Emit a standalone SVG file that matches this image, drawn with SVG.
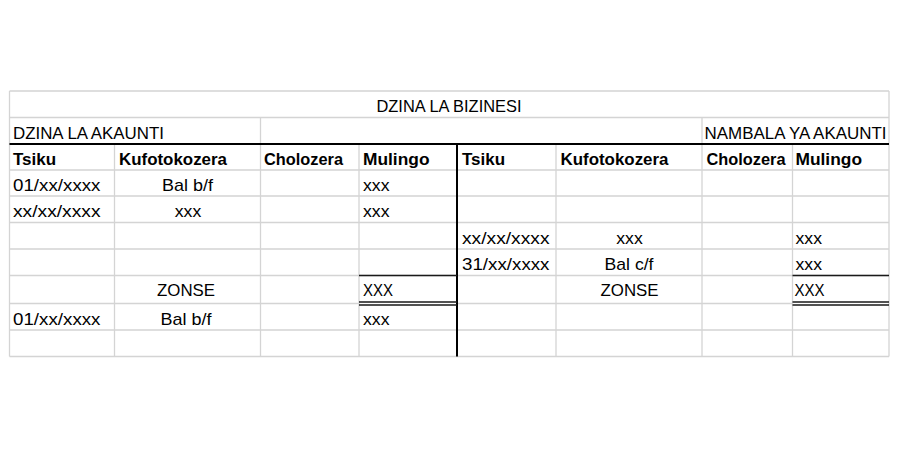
<svg xmlns="http://www.w3.org/2000/svg" width="900" height="450" viewBox="0 0 900 450">
<style>
.g{stroke:#d4d4d4;stroke-width:1.3;fill:none}
.k{stroke:#000;stroke-width:2;fill:none}
.u{stroke:#1a1a1a;stroke-width:1.3;fill:none}
text{font-family:"Liberation Sans",Arial,sans-serif;font-size:17px;fill:#000}
.b{font-weight:bold}
.m{text-anchor:middle}
</style>
<rect width="900" height="450" fill="#fff"/>
<g id="grid">
<path class="g" d="M9.5 91H889M9.5 117.5H889M9.5 170H889M9.5 196H889M9.5 222.5H889M9.5 249H889M9.5 275.5H889M9.5 303.5H359M457 303.5H792.5M9.5 330H889M9.5 356.5H889"/>
<path class="g" d="M9.5 91V356.5M889 91V356.5M260.5 117.5V356.5M702 117.5V356.5M114.5 144V356.5M359 144V356.5M556 144V356.5M792.5 144V356.5"/>
</g>
<g id="rules">
<path class="k" d="M9.5 144H889M457 144V356.5"/>
<path class="u" d="M359 275.5H457M792.5 275.5H889"/>
<path class="u" d="M359 302H457M359 305H457M792.5 302H889M792.5 305H889"/>
</g>
<g id="titles">
<text class="m" x="449" y="111.5" textLength="145" lengthAdjust="spacingAndGlyphs">DZINA LA BIZINESI</text>
<text x="13" y="138.5" textLength="151" lengthAdjust="spacingAndGlyphs">DZINA LA AKAUNTI</text>
<text x="704.5" y="138.5" textLength="182" lengthAdjust="spacingAndGlyphs">NAMBALA YA AKAUNTI</text>
</g>
<g id="headers">
<text class="b" x="13" y="164.5">Tsiku</text>
<text class="b" x="119" y="164.5" textLength="108" lengthAdjust="spacingAndGlyphs">Kufotokozera</text>
<text class="b" x="264" y="164.5" textLength="79" lengthAdjust="spacingAndGlyphs">Cholozera</text>
<text class="b" x="363" y="164.5" textLength="66.5" lengthAdjust="spacingAndGlyphs">Mulingo</text>
<text class="b" x="462" y="164.5">Tsiku</text>
<text class="b" x="560.5" y="164.5" textLength="108" lengthAdjust="spacingAndGlyphs">Kufotokozera</text>
<text class="b" x="706.5" y="164.5" textLength="79" lengthAdjust="spacingAndGlyphs">Cholozera</text>
<text class="b" x="795.5" y="164.5" textLength="66.5" lengthAdjust="spacingAndGlyphs">Mulingo</text>
</g>
<g id="left-entries">
<text x="13" y="190.5" textLength="87.5" lengthAdjust="spacingAndGlyphs">01/xx/xxxx</text>
<text class="m" x="187.5" y="190.5" textLength="51" lengthAdjust="spacingAndGlyphs">Bal b/f</text>
<text x="363" y="190.5" textLength="26.5" lengthAdjust="spacingAndGlyphs">xxx</text>
<text x="13" y="216.5" textLength="87.5" lengthAdjust="spacingAndGlyphs">xx/xx/xxxx</text>
<text class="m" x="188" y="216.5" textLength="26.5" lengthAdjust="spacingAndGlyphs">xxx</text>
<text x="363" y="216.5" textLength="26.5" lengthAdjust="spacingAndGlyphs">xxx</text>
<text class="m" x="186" y="296" textLength="58" lengthAdjust="spacingAndGlyphs">ZONSE</text>
<text x="363" y="296" textLength="30" lengthAdjust="spacingAndGlyphs">XXX</text>
<text x="13" y="324.5" textLength="87.5" lengthAdjust="spacingAndGlyphs">01/xx/xxxx</text>
<text class="m" x="186" y="324.5" textLength="51" lengthAdjust="spacingAndGlyphs">Bal b/f</text>
<text x="363" y="324.5" textLength="26.5" lengthAdjust="spacingAndGlyphs">xxx</text>
</g>
<g id="right-entries">
<text x="462" y="243.5" textLength="87.5" lengthAdjust="spacingAndGlyphs">xx/xx/xxxx</text>
<text class="m" x="629.5" y="243.5" textLength="26.5" lengthAdjust="spacingAndGlyphs">xxx</text>
<text x="795.5" y="243.5" textLength="26.5" lengthAdjust="spacingAndGlyphs">xxx</text>
<text x="462" y="269.5" textLength="87.5" lengthAdjust="spacingAndGlyphs">31/xx/xxxx</text>
<text class="m" x="629" y="269.5" textLength="49" lengthAdjust="spacingAndGlyphs">Bal c/f</text>
<text x="795.5" y="269.5" textLength="26.5" lengthAdjust="spacingAndGlyphs">xxx</text>
<text class="m" x="629.5" y="296" textLength="58" lengthAdjust="spacingAndGlyphs">ZONSE</text>
<text x="794.5" y="296" textLength="30" lengthAdjust="spacingAndGlyphs">XXX</text>
</g>
</svg>
